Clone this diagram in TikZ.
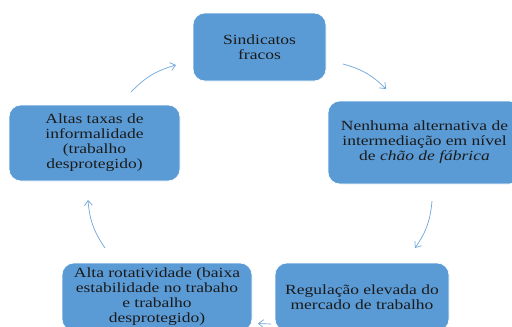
\documentclass[tikz,border=0pt]{standalone}
\usepackage{fontspec}
\setmainfont[FakeStretch=1.25]{Liberation Serif}
\usetikzlibrary{arrows.meta}
\definecolor{boxblue}{HTML}{5B9BD5}
\definecolor{arrowblue}{HTML}{6FA6DB}
\definecolor{txt}{HTML}{1A1A1A}
\begin{document}
\begin{tikzpicture}[x=1pt,y=1pt,
  cycbox/.style={draw=white, line width=0.6pt, fill=boxblue, rounded corners=12pt,
    align=center, text=txt, inner sep=0pt,
    font=\fontsize{14}{15}\selectfont},
  cyc/.style={draw=arrowblue, line width=0.7pt, -{Straight Barb[length=5pt,width=8pt]}, bend left=15}]
\useasboundingbox (0,0) rectangle (512,-327);
\clip (0,0) rectangle (512,-327);
\fill[white] (0,0) rectangle (512,-327);
\node[cycbox, minimum width=133pt, minimum height=68pt] (S) at (259.5,-47) {Sindicatos\\fracos};
\node[cycbox, minimum width=193pt, minimum height=83pt] (N) at (424.5,-142.5) {Nenhuma alternativa de\\intermediação em nível\\de \textit{chão de fábrica}};
\node[cycbox, minimum width=174pt, minimum height=68pt] (G) at (362,-297) {Regulação elevada do\\mercado de trabalho};
\node[cycbox, minimum width=190pt, minimum height=68pt] (R) at (157,-297) {Alta rotatividade (baixa\\estabilidade no trabaho\\e trabalho\\desprotegido)};
\node[cycbox, minimum width=171pt, minimum height=76pt] (A) at (94.5,-143) {Altas taxas de\\informalidade\\(trabalho\\desprotegido)};
\coordinate (s1) at (343,-64);  \coordinate (e1) at (386,-89);
\coordinate (s2) at (432,-201); \coordinate (e2) at (415,-248);
\coordinate (s3) at (271,-324); \coordinate (e3) at (258,-323.5);
\coordinate (s4) at (105,-248); \coordinate (e4) at (88,-200);
\coordinate (s5) at (131,-92);  \coordinate (e5) at (176,-65);
\draw[cyc] (s1) to (e1);
\draw[cyc] (s2) to (e2);
\draw[cyc, bend left=0] (s3) to (e3);
\draw[cyc] (s4) to (e4);
\draw[cyc] (s5) to (e5);
\end{tikzpicture}
\end{document}
